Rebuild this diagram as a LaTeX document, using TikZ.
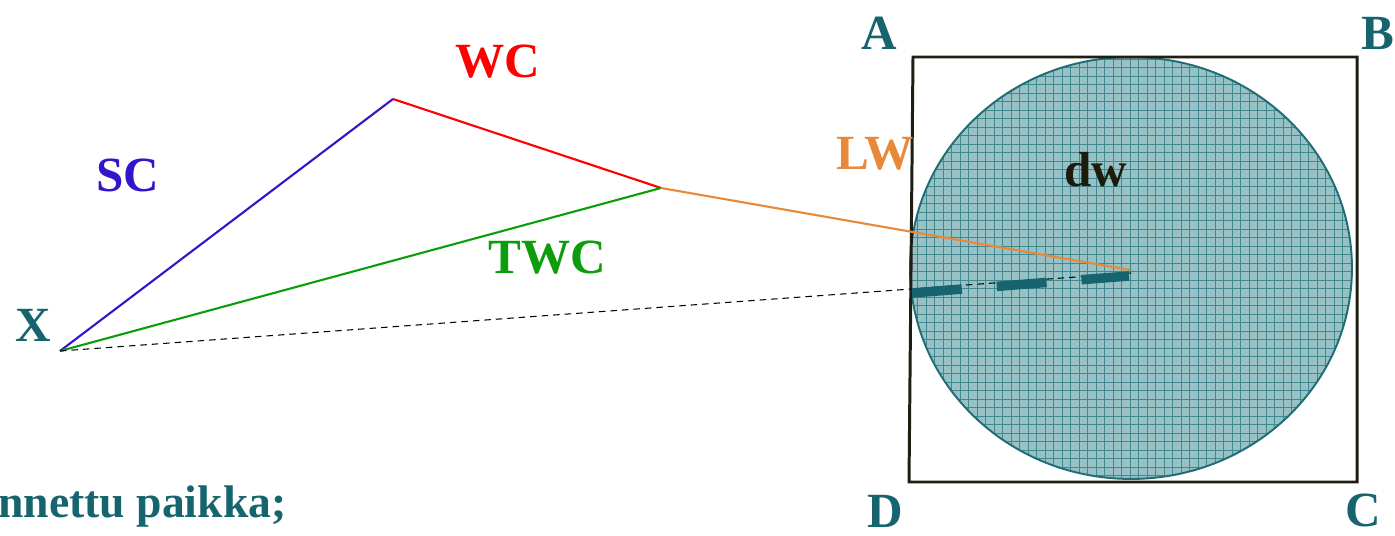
\documentclass[tikz,border=0pt]{standalone}
\usepackage{fontspec}
\setmainfont{Liberation Serif}
\usetikzlibrary{calc}
\definecolor{petrol}{HTML}{16656E}
\definecolor{scblue}{HTML}{3515CC}
\definecolor{wcred}{HTML}{FF0000}
\definecolor{twcgreen}{HTML}{0C9C0C}
\definecolor{lworange}{HTML}{E8893A}
\definecolor{ink}{HTML}{1C1C0C}
\definecolor{framedark}{HTML}{1E1E12}
\definecolor{diskfill}{HTML}{97C1C5}
\definecolor{diskgrid}{HTML}{3F8990}
\definecolor{diskedge}{HTML}{1F6E76}
\tikzset{lbl/.style={font=\fontsize{28}{30}\selectfont\bfseries,anchor=base,inner sep=0pt},leg/.style={line width=1.2pt},frame/.style={draw=framedark,line width=1.7pt},bar/.style={petrol,line width=0.19cm,dash pattern=on 1cm off 0.7cm}}

\begin{document}
\begin{tikzpicture}[x=0.02cm,y=-0.02cm]
\useasboundingbox (0,0) rectangle (1395,536);
\coordinate (x0) at (60,351);\coordinate (top) at (393,99);\coordinate (knee) at (661,188);\coordinate (mid) at (1130,270);
\coordinate (ca) at (913,57);\coordinate (cb) at (1357,57);\coordinate (cc) at (1357,482);\coordinate (cd) at (909,482);
\coordinate (o) at (1131,268);\coordinate (t1) at (912,293);\coordinate (t2) at (1129,276);\coordinate (dend) at (1131,273);
% disk with grid texture
\fill[diskfill] (o) ellipse [x radius=4.42cm,y radius=4.22cm];
\begin{scope}
\clip (o) ellipse [x radius=4.42cm,y radius=4.22cm];
\draw[diskgrid,line width=0.55pt,step=0.17cm] (900,50) grid (1360,490);
\end{scope}
\draw[diskedge,line width=1.1pt] (o) ellipse [x radius=4.42cm,y radius=4.22cm];
\draw[frame] (ca)--(cb)--(cc)--(cd)--cycle;
% legs
\draw[leg,scblue] (x0)--(top);\draw[leg,wcred] (top)--(knee);
\draw[leg,twcgreen] (x0)--(knee);\draw[leg,lworange] (knee)--(mid);
\draw[black,line width=0.6pt,dash pattern=on 0.13cm off 0.1cm] (x0)--(dend);
\draw[bar] (t1)--(t2);
% labels
\node[lbl,wcred] (wc) at (498,78) {WC};
\node[lbl,scblue] (sc) at (128,192) {SC};
\node[lbl,twcgreen] (twc) at (547,274) {TWC};
\node[lbl,lworange] (lw) at (875,170) {LW};
\node[lbl,ink] (dw) at (1096,187) {dw};
\node[lbl,petrol] (xl) at (33,342) {X};
\node[lbl,petrol] (la) at (879,50) {A};
\node[lbl,petrol] (lb) at (1378,50) {B};
\node[lbl,petrol] (lc) at (1363,526) {C};
\node[lbl,petrol] (ld) at (885,527) {D};
\node[lbl,petrol,anchor=base west,font=\fontsize{26}{28}\selectfont\bfseries] (note) at (-2,517) {nnettu paikka;};
\end{tikzpicture}
\end{document}
